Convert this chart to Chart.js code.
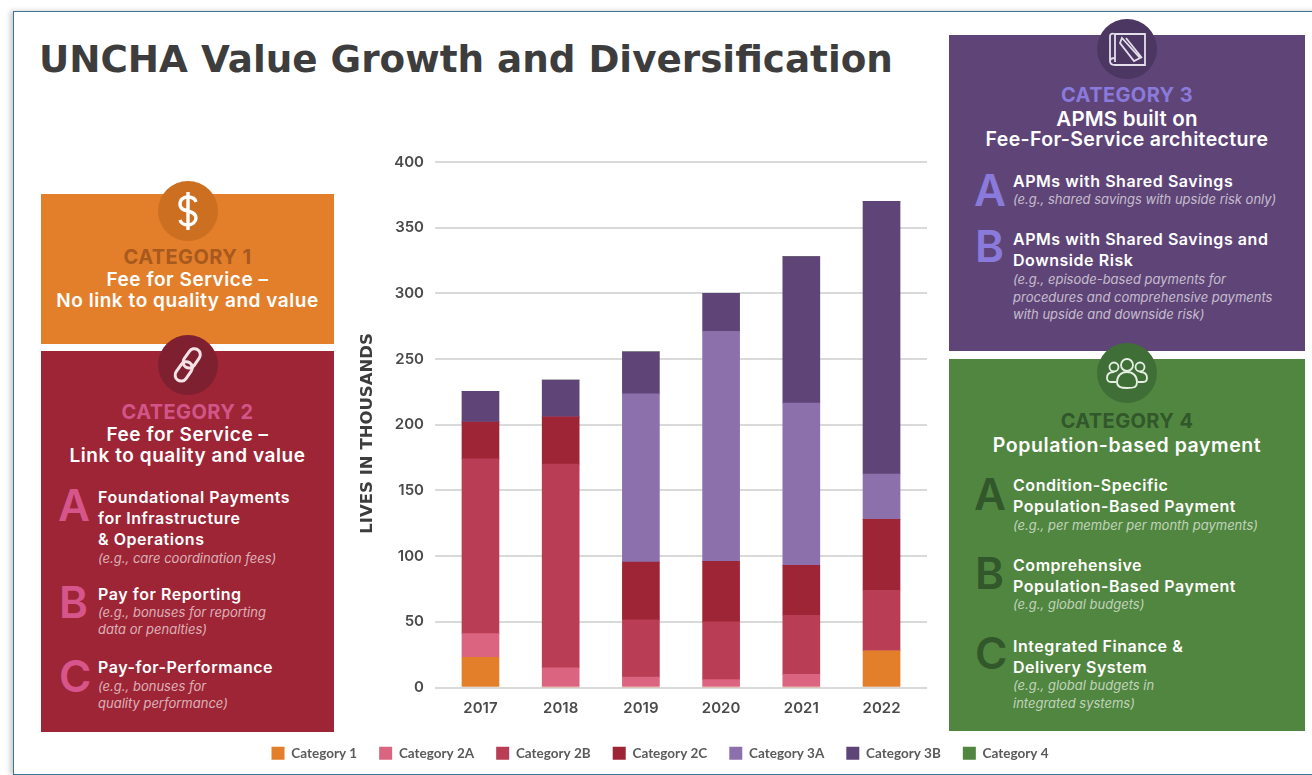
<!DOCTYPE html>
<html><head><meta charset="UTF-8"><title>UNCHA Value Growth and Diversification</title>
<script src="https://cdn.jsdelivr.net/npm/chart.js"></script>
<style>
  html, body { margin: 0; padding: 0; background: #fff; width: 1312px; height: 775px; overflow: hidden; font-family: Inter, sans-serif; }
  #frame { position: absolute; left: 13px; top: 11px; width: 1320px; height: 762px; border: 1.5px solid #3f7395; box-shadow: -3px 0 5px rgba(0,0,0,.2); }
  #wrap { position: absolute; left: 220px; top: 130px; width: 880px; height: 640px; }
  h1 { position: absolute; left: 39px; top: 59px; margin: 0; transform: translateY(-50%); font-family: "DejaVu Sans", sans-serif; font-size: 37.3px; font-weight: 700; color: #3d3d3d; white-space: nowrap; }
  .box, .dot { position: absolute; }
  .dot { width: 60px; height: 60px; border-radius: 50%; display: flex; align-items: center; justify-content: center; }
  .t { position: absolute; white-space: nowrap; transform: translateY(-50%); color: #fff; }
  .c { transform: translate(-50%, -50%); }
  .cat { font-size: 20px; font-weight: 700; letter-spacing: .4px; }
  .head { font-size: 19px; font-weight: 600; letter-spacing: .55px; }
  .big { font-size: 44px; font-weight: 600; }
  .sub { font-size: 16px; font-weight: 600; letter-spacing: .55px; }
  .eg { font-size: 13px; font-style: italic; color: rgba(255,255,255,.65); }
</style></head>
<body>
<div id="frame"></div>
<h1>UNCHA Value Growth and Diversification</h1>

<div class="box" style="left:41px;top:194px;width:293px;height:150px;background:#e37f2b"></div>
<div class="dot" style="left:158px;top:181px;background:#cc6f20"><svg width="30" height="42" viewBox="0 0 30 42" fill="none" stroke="#fff" stroke-width="3.4"><path d="M23 12c-1-4-4-5-8-5s-8 2-8 7 4 6 8 7 8 3 8 7-4 7-8 7-7-2-8-5M15 2v38"/></svg></div>
<div class="t c cat" style="left:187.5px;top:257px;color:#a8591e">CATEGORY 1</div>
<div class="t c head" style="left:187.5px;top:279px">Fee for Service –</div>
<div class="t c head" style="left:187.5px;top:300px">No link to quality and value</div>

<div class="box" style="left:41px;top:351px;width:293px;height:381px;background:#9e2536"></div>
<div class="dot" style="left:158px;top:335px;background:#7f2031"><svg width="34" height="38" viewBox="0 0 34 38" fill="none" stroke="#f3e3e6" stroke-width="3"><rect x="15" y="2" width="12" height="21" rx="6" transform="rotate(35 21 12)"/><rect x="7" y="15" width="12" height="21" rx="6" transform="rotate(35 13 25)"/></svg></div>
<div class="t c cat" style="left:187.5px;top:412px;color:#d2558a">CATEGORY 2</div>
<div class="t c head" style="left:187.5px;top:434px">Fee for Service –</div>
<div class="t c head" style="left:187.5px;top:455px">Link to quality and value</div>
<div class="t big" style="left:58px;top:505px;color:#d6568c">A</div>
<div class="t sub" style="left:98px;top:497px">Foundational Payments</div>
<div class="t sub" style="left:98px;top:518px">for Infrastructure</div>
<div class="t sub" style="left:98px;top:539px">&amp; Operations</div>
<div class="t eg" style="left:98px;top:558px">(e.g., care coordination fees)</div>
<div class="t big" style="left:59px;top:602px;color:#d6568c">B</div>
<div class="t sub" style="left:98px;top:594px">Pay for Reporting</div>
<div class="t eg" style="left:98px;top:612px">(e.g., bonuses for reporting</div>
<div class="t eg" style="left:98px;top:629px">data or penalties)</div>
<div class="t big" style="left:59px;top:676px;color:#d6568c">C</div>
<div class="t sub" style="left:98px;top:667px">Pay-for-Performance</div>
<div class="t eg" style="left:98px;top:686px">(e.g., bonuses for</div>
<div class="t eg" style="left:98px;top:703px">quality performance)</div>

<div class="box" style="left:949px;top:35px;width:356px;height:316px;background:#5f4577"></div>
<div class="dot" style="left:1097px;top:19px;background:#4c3763"><svg width="40" height="40" viewBox="0 0 40 40" fill="none" stroke="#e4deea" stroke-width="1.8"><path d="M8 5h30v31H8c-3 0-5-1-5-4V7c0-2 2-3 5-2v28M3 32c0-2 2-3 5-3"/><path d="M15 9l18 20-6 3-14-18zM19 9l16 20"/></svg></div>
<div class="t c cat" style="left:1127px;top:95px;color:#8a7adb">CATEGORY 3</div>
<div class="t c" style="left:1127px;top:118px;font-size:20.5px;font-weight:600;letter-spacing:.15px">APMS built on</div>
<div class="t c" style="left:1127px;top:139px;font-size:19.5px;font-weight:600;letter-spacing:.37px">Fee-For-Service architecture</div>
<div class="t big" style="left:974px;top:190px;color:#8a7adb">A</div>
<div class="t sub" style="left:1013px;top:181px">APMs with Shared Savings</div>
<div class="t eg" style="left:1013px;top:199px">(e.g., shared savings with upside risk only)</div>
<div class="t big" style="left:975px;top:246px;color:#8a7adb">B</div>
<div class="t sub" style="left:1013px;top:239px">APMs with Shared Savings and</div>
<div class="t sub" style="left:1013px;top:260px">Downside Risk</div>
<div class="t eg" style="left:1013px;top:279px">(e.g., episode-based payments for</div>
<div class="t eg" style="left:1013px;top:297px">procedures and comprehensive payments</div>
<div class="t eg" style="left:1013px;top:314px">with upside and downside risk)</div>

<div class="box" style="left:949px;top:359px;width:356px;height:372px;background:#518640"></div>
<div class="dot" style="left:1097px;top:343px;background:#3f6f36"><svg width="44" height="32" viewBox="0 0 44 32" fill="none" stroke="#e6efe3" stroke-width="1.8"><circle cx="22" cy="8" r="6"/><circle cx="9" cy="10" r="4.5"/><circle cx="35" cy="10" r="4.5"/><path d="M12 25c0-6 4-10 10-10s10 4 10 10-4 6-10 6-10-1-10-6zM11 25H6c-3 0-4-2-4-4 0-4 3-6 7-6M33 25h5c3 0 4-2 4-4 0-4-3-6-7-6"/></svg></div>
<div class="t c cat" style="left:1127px;top:421px;color:#31572b">CATEGORY 4</div>
<div class="t c" style="left:1127px;top:445px;font-size:19.5px;font-weight:600;letter-spacing:.55px">Population-based payment</div>
<div class="t big" style="left:974px;top:494px;color:#31572b">A</div>
<div class="t sub" style="left:1013px;top:485px">Condition-Specific</div>
<div class="t sub" style="left:1013px;top:506px">Population-Based Payment</div>
<div class="t eg" style="left:1013px;top:525px">(e.g., per member per month payments)</div>
<div class="t big" style="left:975px;top:573px;color:#31572b">B</div>
<div class="t sub" style="left:1013px;top:565px">Comprehensive</div>
<div class="t sub" style="left:1013px;top:586px">Population-Based Payment</div>
<div class="t eg" style="left:1013px;top:604px">(e.g., global budgets)</div>
<div class="t big" style="left:975px;top:653px;color:#31572b">C</div>
<div class="t sub" style="left:1013px;top:646px">Integrated Finance &amp;</div>
<div class="t sub" style="left:1013px;top:667px">Delivery System</div>
<div class="t eg" style="left:1013px;top:685px">(e.g., global budgets in</div>
<div class="t eg" style="left:1013px;top:703px">integrated systems)</div>

<div id="wrap"><canvas id="c"></canvas></div>

<script>
const years = ['2017', '2018', '2019', '2020', '2021', '2022'];
const yTicks = [0, 50, 100, 150, 200, 250, 300, 350, 400];
const cat1  = [23, 0, 0, 0, 0, 28];
const cat2A = [18, 15, 8, 6, 10, 0];
const cat2B = [133, 155, 43.5, 44, 45, 46];
const cat2C = [28, 36, 44, 46, 38, 54];
const cat3A = [0, 0, 128, 175, 123.5, 34.5];
const cat3B = [23.5, 28, 32, 29, 111.5, 207.5];
const cat4  = [0, 0, 0, 0, 0, 0];

const names = ['Category 1', 'Category 2A', 'Category 2B', 'Category 2C', 'Category 3A', 'Category 3B', 'Category 4'];
const colors = ['#e37f2b', '#db6480', '#b93e55', '#9e2536', '#8b70ab', '#5f4577', '#518640'];
const rows = [cat1, cat2A, cat2B, cat2C, cat3A, cat3B, cat4];

Chart.defaults.font.family = 'Inter, sans-serif';

new Chart(document.getElementById('c'), {
  type: 'bar',
  data: {
    datasets: rows.map((r, i) => ({
      label: names[i],
      data: r.map((v, k) => ({ x: k, y: v })),
      backgroundColor: colors[i],
      barThickness: 37
    }))
  },
  options: {
    responsive: true,
    maintainAspectRatio: false,
    animation: false,
    layout: { padding: { top: 32 } },
    plugins: {
      tooltip: { enabled: false },
      legend: {
        position: 'bottom',
        labels: {
          boxWidth: 13, boxHeight: 13, padding: 22, color: '#5a5a5a',
          font: { family: 'Lato, sans-serif', size: 13.5, weight: 'bold' }
        }
      }
    },
    scales: {
      // linear x so the gridlines can run past the first and last year a bit
      x: {
        type: 'linear', stacked: true, offset: false, min: -0.567, max: 5.567,
        afterFit: s => { s.height = 37; },
        grid: { display: false }, border: { display: false },
        ticks: {
          stepSize: 1, includeBounds: false, autoSkip: false, maxRotation: 0, padding: 4,
          color: '#4a4a4a', font: { size: 15, weight: '600' },
          callback: v => years[v]
        }
      },
      y: {
        stacked: true, min: 0, max: 400,
        afterFit: s => { s.width = 215; },
        afterBuildTicks: s => { s.ticks = yTicks.map(v => ({ value: v })); },
        grid: { color: '#d8dada', lineWidth: 2, drawTicks: false },
        border: { display: false },
        ticks: { padding: 11, color: '#4a4a4a', font: { size: 15, weight: '600' } },
        title: {
          // trailing spaces push the centred title down a few px
          display: true, text: 'LIVES IN THOUSANDS   ', color: '#3d3d3d',
          font: { family: '"DejaVu Sans", sans-serif', size: 16.5, weight: '700' }, padding: { top: 138, bottom: 0 }
        }
      },
      // empty axis, keeps the plot clear of the right hand panels without narrowing the legend
      gutter: {
        type: 'linear', position: 'right',
        afterFit: s => { s.width = 173; },
        grid: { display: false }, border: { display: false }, ticks: { display: false }
      }
    }
  }
});
</script>
</body></html>
